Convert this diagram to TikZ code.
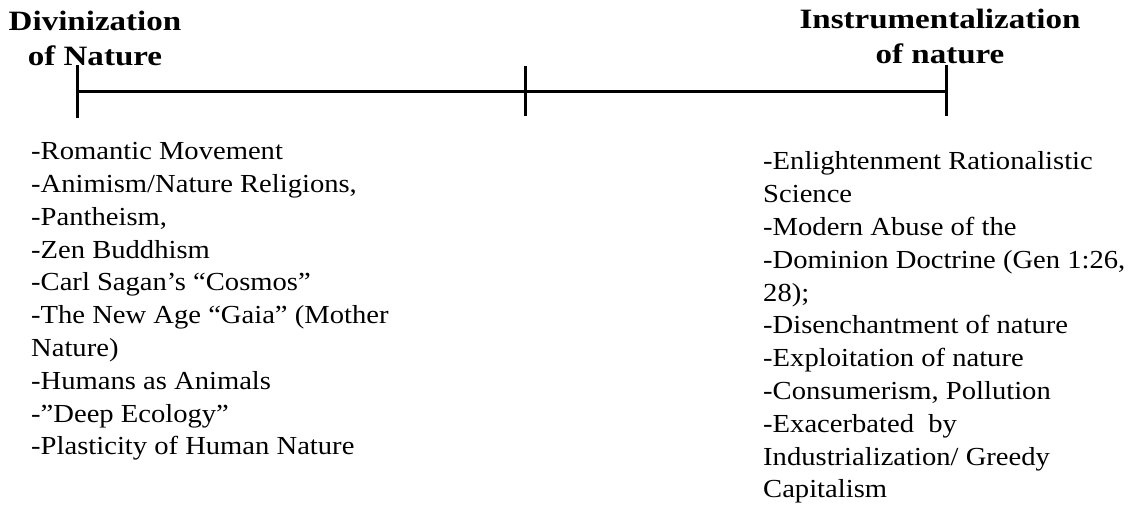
\documentclass[tikz,border=0pt]{standalone}
\usepackage{fontspec}
\setmainfont[FakeStretch=1.10]{Liberation Serif}
\newfontfamily\titlefont[FakeStretch=1.18]{Liberation Serif}
\begin{document}
\begin{tikzpicture}[x=1pt,y=1pt,
  axisline/.style={line width=3pt,black},
  tickline/.style={line width=3pt,black},
  titletext/.style={font=\titlefont\bfseries\fontsize{28}{35}\selectfont,align=center,inner sep=0pt,anchor=base},
  listtext/.style={font=\fontsize{26}{32.8}\selectfont,align=left,inner sep=0pt,anchor=base west}]
\useasboundingbox (0,0) rectangle (1128,506);
\coordinate (L) at (77,414);
\coordinate (M) at (525,414);
\coordinate (R) at (946,414);
\coordinate (Lt) at (77,441);
\coordinate (Lb) at (77,388);
\coordinate (Mt) at (525,440);
\coordinate (Mb) at (525,390);
\coordinate (Rt) at (946,441);
\coordinate (Rb) at (946,390);
\draw[axisline] (L) -- (R);
\draw[tickline] (Lt) -- (Lb);
\draw[tickline] (Mt) -- (Mb);
\draw[tickline] (Rt) -- (Rb);
\node[titletext] (tleft) at (95,440) {Divinization\\of Nature};
\node[titletext] (tright) at (940,442) {Instrumentalization\\of nature};
\node[listtext] (lleft) at (31,51) {-Romantic Movement\\-Animism/Nature Religions,\\-Pantheism,\\-Zen Buddhism\\-Carl Sagan’s “Cosmos”\\-The New Age “Gaia” (Mother\\Nature)\\-Humans as Animals\\-”Deep Ecology”\\-Plasticity of Human Nature};
\node[listtext] (lright) at (763,8) {-Enlightenment Rationalistic\\Science\\-Modern Abuse of the\\-Dominion Doctrine (Gen 1:26,\\28);\\-Disenchantment of nature\\-Exploitation of nature\\-Consumerism, Pollution\\-Exacerbated~ by\\Industrialization/ Greedy\\Capitalism};
\end{tikzpicture}
\end{document}
